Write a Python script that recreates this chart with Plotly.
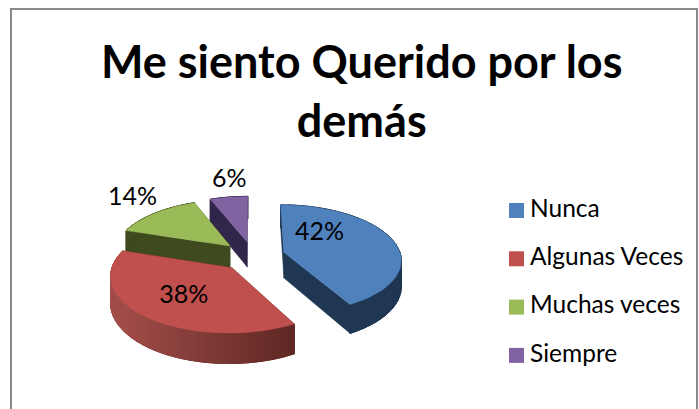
import numpy as np
import plotly.graph_objects as go

title = "Me siento Querido por los<br>demás"
categories = ["Nunca", "Algunas Veces", "Muchas veces", "Siempre"]
values = [42, 38, 14, 6]

top_colors = ["#4f81bd", "#c0504d", "#9bbb59", "#8064a2"]
side_left = ["#1f3752", "#a04c48", "#3f4b1f", "#32264a"]
side_right = ["#1f3752", "#4e1e1a", "#3f4b1f", "#32264a"]
paint_order = [3, 2, 0, 1]
label_shift = [-34, -2, 3, 3]
label_radius = [0.5, 0.6, 1.42, 1.42]

CX, CY, A, B, K, DEPTH, EXPLODE = 253, 256, 117, 54.2, 0.122, 26, 0.275
FONT = "Lato, Carlito, Calibri, sans-serif"


def project(X, Y, drop=0.0):
    s = 1 / (1 + K * np.asarray(Y, float))
    return CX + A * np.asarray(X, float) * s, CY - B * np.asarray(Y, float) * s + drop * DEPTH * s


def mix(c1, c2, f):
    a = [int(c1[i:i + 2], 16) for i in (1, 3, 5)]
    b = [int(c2[i:i + 2], 16) for i in (1, 3, 5)]
    return "rgb(%d,%d,%d)" % tuple(round(p + (q - p) * f) for p, q in zip(a, b))


fig = go.Figure()


def poly(xs, ys, color, width=0.4):
    fig.add_trace(go.Scatter(
        x=list(xs) + [xs[0]], y=list(ys) + [ys[0]], mode="lines", fill="toself",
        fillcolor=color, line=dict(color=color, width=width),
        hoverinfo="skip", showlegend=False))


total = sum(values)
edges = np.concatenate([[0], np.cumsum(values)]) / total * 2 * np.pi
labels_x, labels_y, labels_t = [], [], []
for i in paint_order:
    t0, t1 = edges[i], edges[i + 1]
    mid = (t0 + t1) / 2
    ox, oy = EXPLODE * np.sin(mid), EXPLODE * np.cos(mid)
    ts = np.linspace(t0, t1, 40)
    X, Y = ox + np.sin(ts), oy + np.cos(ts)

    # cut faces
    for t in (t0, t1):
        ex, ey = ox + np.sin(t), oy + np.cos(t)
        px, py = project([ox, ex, ex, ox], [oy, ey, ey, oy], np.array([0, 0, 1, 1]))
        poly(px, py, side_left[i] if i != 1 else side_right[i])

    # outer wall: overlapping strips painted left to right hide the seams
    for j in range(len(ts) - 1):
        k = min(j + 2, len(ts) - 1)
        xa, ya = X[[j, k]], Y[[j, k]]
        px, py = project([xa[0], xa[1], xa[1], xa[0]], [ya[0], ya[1], ya[1], ya[0]],
                         np.array([0, 0, 1, 1]))
        f = np.clip((np.mean(xa) + 1.0) / 1.6, 0, 1)
        poly(px, py, mix(side_left[i], side_right[i], f), 1.0)

    # top face
    px, py = project(np.r_[ox, X], np.r_[oy, Y])
    poly(px, py, top_colors[i])

    tl = mid + np.radians(label_shift[i])
    lx, ly = project(ox + label_radius[i] * np.sin(tl), oy + label_radius[i] * np.cos(tl))
    labels_x.append(float(lx))
    labels_y.append(float(ly))
    labels_t.append(f"{values[i]}%")

fig.add_trace(go.Scatter(x=labels_x, y=labels_y, text=labels_t, mode="text",
                         textposition="middle center",
                         textfont=dict(family=FONT, size=25, color="#000000"),
                         hoverinfo="skip", showlegend=False))

# legend
leg_y = [210.5 + 48.3 * n for n in range(len(categories))]
fig.add_trace(go.Scatter(x=[516.5] * len(categories), y=leg_y, mode="markers",
                         marker=dict(symbol="square", size=15, color=top_colors, line=dict(width=0)),
                         hoverinfo="skip", showlegend=False))
fig.add_trace(go.Scatter(x=[530] * len(categories), y=leg_y, text=categories, mode="text",
                         textposition="middle right",
                         textfont=dict(family=FONT, size=24.5, color="#000000"),
                         hoverinfo="skip", showlegend=False))

fig.add_annotation(x=361, y=90, xref="x", yref="y", text=f"<b>{title}</b>", showarrow=False,
                   font=dict(family=FONT, size=45, color="#000000"), align="center")

fig.add_shape(type="rect", xref="x", yref="y", x0=11, y0=9, x1=697, y1=430,
              line=dict(color="#8a8a8a", width=2), layer="below")

fig.update_layout(
    width=699, height=409, autosize=False,
    margin=dict(l=0, r=0, t=0, b=0),
    paper_bgcolor="#ffffff", plot_bgcolor="#ffffff",
    xaxis=dict(range=[0, 699], visible=False, fixedrange=True),
    yaxis=dict(range=[409, 0], visible=False, fixedrange=True),
)
fig.write_html("out.html", config=dict(displayModeBar=False),
               post_script="document.body.style.margin='0';document.body.style.overflow='hidden';")
